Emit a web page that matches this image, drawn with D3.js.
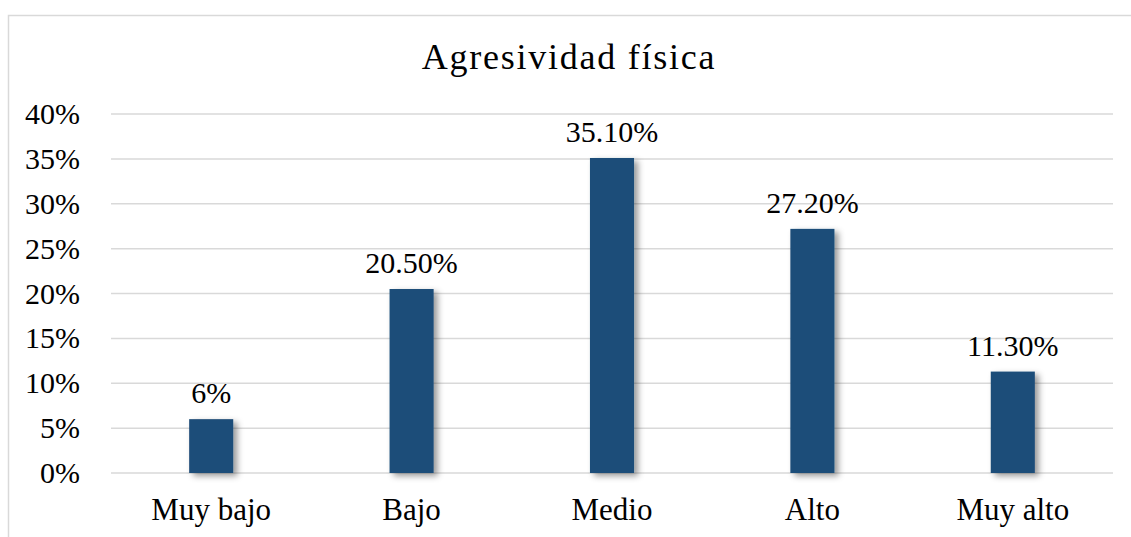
<!DOCTYPE html>
<html>
<head>
<meta charset="utf-8">
<script src="https://cdn.jsdelivr.net/npm/d3@7"></script>
<style>
  body { margin: 0; background: #fff; }
  text { font-family: "Times New Roman", "Liberation Serif", Tinos, Times, serif; fill: #000; }
</style>
</head>
<body>
<script>
// chart values
const categories = ["Muy bajo", "Bajo", "Medio", "Alto", "Muy alto"];
const values = [6, 20.5, 35.1, 27.2, 11.3];
const valueLabels = ["6%", "20.50%", "35.10%", "27.20%", "11.30%"];
const yTicks = [0, 5, 10, 15, 20, 25, 30, 35, 40];
const title = "Agresividad física";

const W = 1131, H = 537;
const margin = {top: 114, right: 18, bottom: 64, left: 111};
const width = W - margin.left - margin.right,
      height = H - margin.top - margin.bottom;

const svg = d3.select("body").append("svg")
  .attr("width", W)
  .attr("height", H);

// drop shadow for bars
const defs = svg.append("defs");
const f = defs.append("filter").attr("id", "shadow")
  .attr("x", "-30%").attr("y", "-30%").attr("width", "160%").attr("height", "160%");
f.append("feDropShadow")
  .attr("dx", 4).attr("dy", 3).attr("stdDeviation", 3)
  .attr("flood-color", "#000").attr("flood-opacity", 0.4);

// outer chart border (runs off the right/bottom edge)
svg.append("rect")
  .attr("x", 8.5).attr("y", 15.5)
  .attr("width", W + 10).attr("height", H + 10)
  .attr("fill", "none").attr("stroke", "#d9d9d9").attr("stroke-width", 1.5);

svg.append("text")
  .attr("x", 569).attr("y", 69)
  .attr("text-anchor", "middle")
  .style("font-size", "36px")
  .style("letter-spacing", "1.75px")
  .text(title);

const g = svg.append("g")
  .attr("transform", "translate(" + margin.left + "," + margin.top + ")");

const x = d3.scaleBand()
  .domain(categories)
  .range([0, width])
  .paddingInner(0.78)
  .paddingOuter(0.39);

const y = d3.scaleLinear()
  .domain([0, 40])
  .range([height, 0]);

// gridlines
g.append("g")
  .selectAll("line")
  .data(yTicks)
  .enter().append("line")
    .attr("x1", 0).attr("x2", width)
    .attr("y1", d => y(d)).attr("y2", d => y(d))
    .attr("stroke", "#d9d9d9").attr("stroke-width", 1.5);

// y axis labels
const yAxis = g.append("g")
  .call(d3.axisLeft(y).tickValues(yTicks).tickFormat(d => d + "%").tickSize(0).tickPadding(31));
yAxis.attr("font-family", null).attr("font-size", null);
yAxis.select(".domain").remove();
yAxis.selectAll("text")
  .style("font-size", "30px")
  .attr("fill", "#000");

// x axis labels
const xAxis = g.append("g")
  .attr("transform", "translate(0," + height + ")")
  .call(d3.axisBottom(x).tickSize(0).tickPadding(25));
xAxis.attr("font-family", null).attr("font-size", null);
xAxis.select(".domain").remove();
xAxis.selectAll("text")
  .style("font-size", "31px")
  .attr("fill", "#000");

// bars
g.selectAll(".bar")
  .data(values)
  .enter().append("rect")
    .attr("class", "bar")
    .attr("x", (d, i) => x(categories[i]))
    .attr("y", d => y(d))
    .attr("width", x.bandwidth())
    .attr("height", d => height - y(d))
    .attr("fill", "#1f4e79")
    .attr("filter", "url(#shadow)");

// value labels
g.selectAll(".lbl")
  .data(values)
  .enter().append("text")
    .attr("class", "lbl")
    .attr("x", (d, i) => x(categories[i]) + x.bandwidth() / 2)
    .attr("y", d => y(d) - 16)
    .attr("text-anchor", "middle")
    .style("font-size", "30px")
    .text((d, i) => valueLabels[i]);
</script>
</body>
</html>
